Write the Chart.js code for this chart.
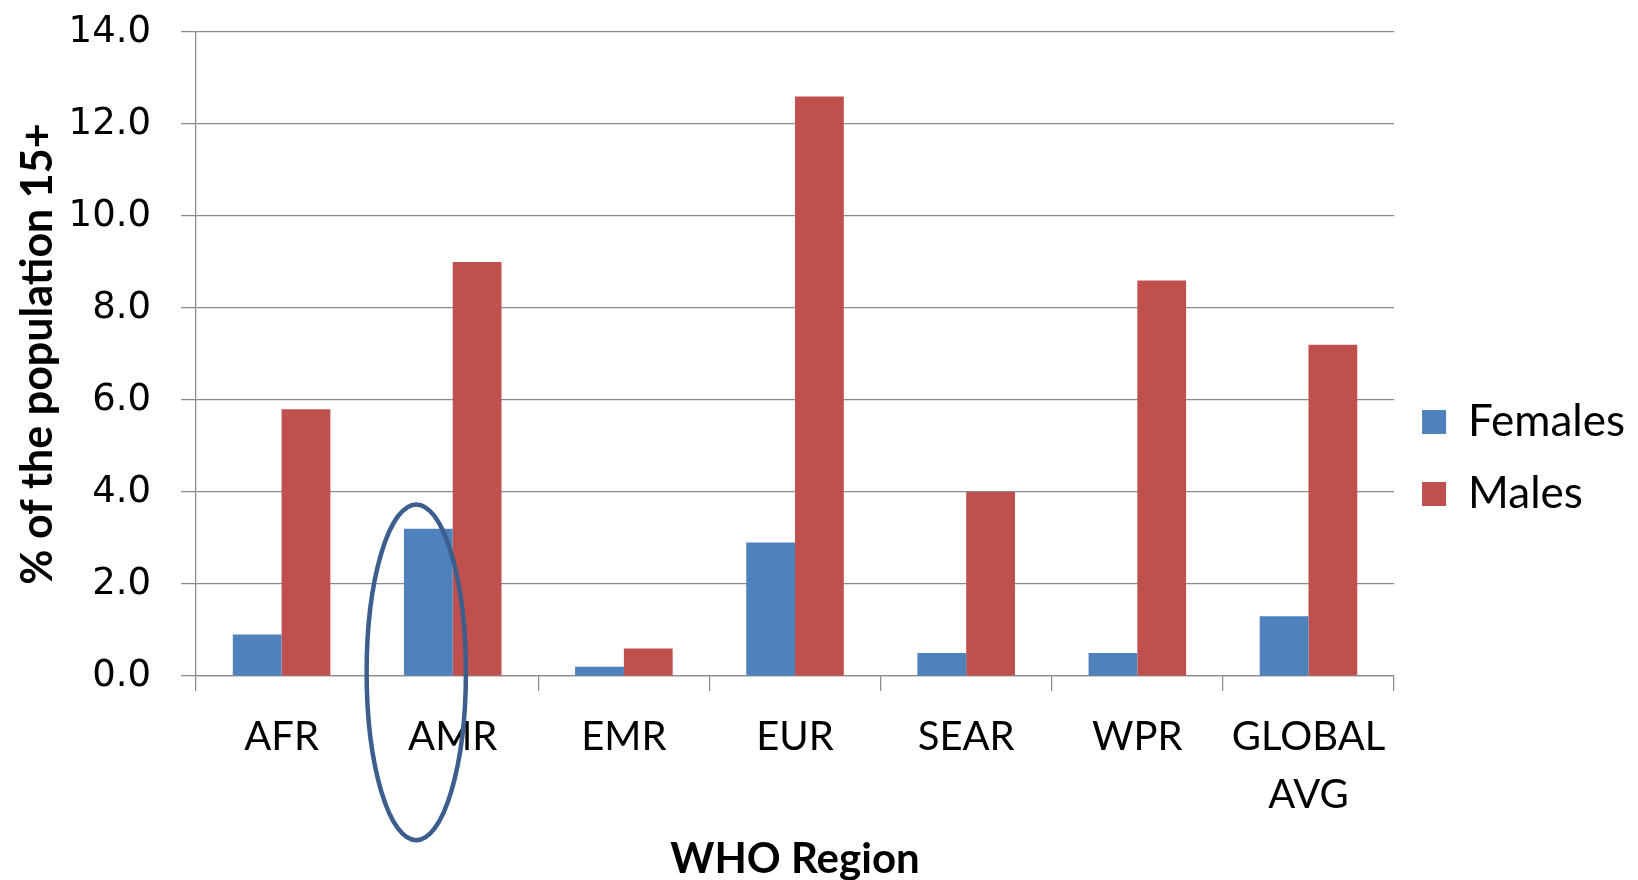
<!DOCTYPE html>
<html>
<head>
<meta charset="utf-8">
<script src="https://cdn.jsdelivr.net/npm/chart.js@4/dist/chart.umd.min.js"></script>
<style>
  html, body { margin: 0; padding: 0; background: #ffffff; }
  #wrap { width: 1638px; height: 880px; position: relative; }
</style>
</head>
<body>
<div id="wrap"><canvas id="c" width="1638" height="880"></canvas></div>
<script>
// ---- data ----
const regions = ['AFR', 'AMR', 'EMR', 'EUR', 'SEAR', 'WPR', ['GLOBAL', 'AVG']];
const females = [0.9, 3.2, 0.2, 2.9, 0.5, 0.5, 1.3];
const males   = [5.8, 9.0, 0.6, 12.6, 4.0, 8.6, 7.2];
const seriesNames = ['Females', 'Males'];
const yTicks = [0, 2, 4, 6, 8, 10, 12, 14];
const xTitle = 'WHO Region';
const yTitle = '% of the population 15+';

// highlight ellipse around AMR (in data units)
const highlight = { index: 1, dx: -0.213, yCenter: 0.08, rx: 0.29, ry: 3.65 };

const ellipsePlugin = {
  id: 'ellipse',
  afterDatasetsDraw(chart) {
    const xs = chart.scales.x, ys = chart.scales.y;
    const step = xs.getPixelForValue(1) - xs.getPixelForValue(0);
    const cx = xs.getPixelForValue(highlight.index) + highlight.dx * step;
    const cy = ys.getPixelForValue(highlight.yCenter);
    const rx = highlight.rx * step;
    const ry = Math.abs(ys.getPixelForValue(highlight.yCenter + highlight.ry) - cy);
    const ctx = chart.ctx;
    ctx.save();
    ctx.beginPath();
    ctx.ellipse(cx, cy, rx, ry, 0, 0, Math.PI * 2);
    ctx.lineWidth = 4.5;
    ctx.strokeStyle = '#3c5e8c';
    ctx.stroke();
    ctx.restore();
  }
};

const gridColor = '#8a8a8a';

new Chart(document.getElementById('c'), {
  type: 'bar',
  data: {
    labels: regions,
    datasets: [
      { label: seriesNames[0], data: females, backgroundColor: '#4f81bd', borderWidth: 0 },
      { label: seriesNames[1], data: males, backgroundColor: '#c0504d', borderWidth: 0 }
    ]
  },
  options: {
    responsive: false,
    devicePixelRatio: 1,
    animation: false,
    layout: { padding: { top: 32, right: 3, bottom: -4, left: 0 } },
    datasets: { bar: { categoryPercentage: 0.57, barPercentage: 1.0 } },
    plugins: {
      legend: {
        position: 'right',
        align: 'center',
        labels: {
          color: '#000000',
          font: { family: 'Lato', size: 44 },
          boxWidth: 24,
          boxHeight: 24,
          padding: 28
        }
      },
      tooltip: { enabled: false }
    },
    scales: {
      x: {
        grid: {
          display: true,
          drawOnChartArea: false,
          drawTicks: true,
          tickLength: 15,
          color: gridColor,
          lineWidth: 1.25
        },
        border: { display: true, color: gridColor, width: 1.25 },
        ticks: {
          color: '#000000',
          font: { family: 'Lato', size: 40, lineHeight: 1.45 },
          padding: 17,
          maxRotation: 0,
          autoSkip: false
        },
        title: {
          display: true,
          text: xTitle,
          color: '#000000',
          font: { family: 'Lato', size: 42, weight: 'bold', lineHeight: 1.0 },
          padding: { top: 0, bottom: 4 }
        },
        afterFit(scale) { scale.height = 208; }
      },
      y: {
        min: 0,
        max: 14,
        afterBuildTicks(scale) { scale.ticks = yTicks.map(v => ({ value: v })); },
        grid: {
          color: gridColor,
          lineWidth: 1.25,
          drawTicks: true,
          tickLength: 15
        },
        border: { display: true, color: gridColor, width: 1.25 },
        ticks: {
          color: '#000000',
          font: { family: 'DejaVu Sans', size: 37 },
          padding: 30,
          callback: v => Number(v).toFixed(1)
        },
        title: {
          display: true,
          text: yTitle,
          color: '#000000',
          font: { family: 'Lato', size: 43, weight: 'bold', lineHeight: 1.2 },
          padding: { top: 12, bottom: 8 }
        },
        afterFit(scale) {
          scale.width = 196;
          scale.paddingTop = 0;
          scale.paddingBottom = 0;
        }
      }
    }
  },
  plugins: [ellipsePlugin]
});
</script>
</body>
</html>
